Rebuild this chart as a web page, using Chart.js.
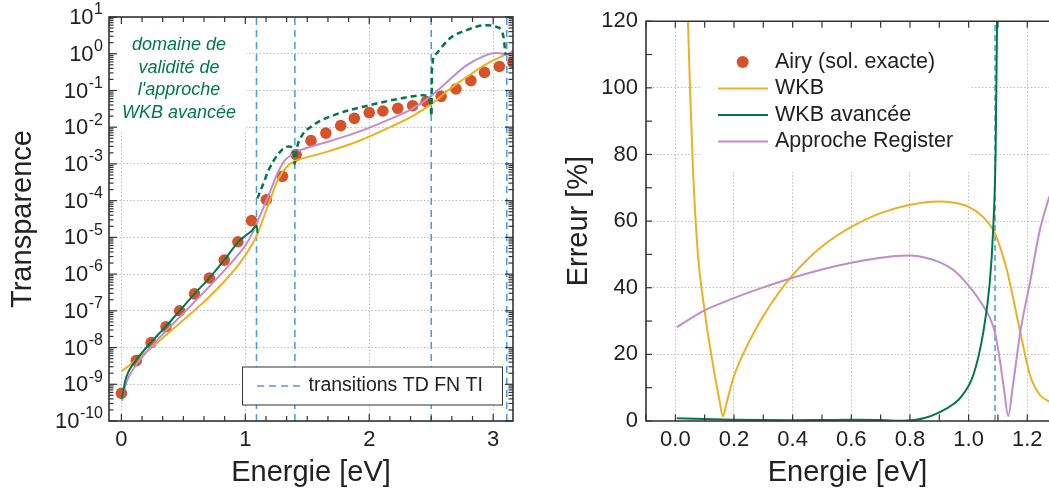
<!DOCTYPE html>
<html><head><meta charset="utf-8">
<script src="https://cdn.jsdelivr.net/npm/chart.js@4.4.1/dist/chart.umd.min.js"></script>
<style>
html,body{margin:0;padding:0;background:#fff;overflow:hidden;width:1049px;height:495px}
#l{position:absolute;left:0;top:0;width:530px;height:495px}
#r{position:absolute;left:530px;top:0;width:519px;height:495px}
</style></head><body>
<div id="l"><canvas id="cl"></canvas></div>
<div id="r"><canvas id="cr"></canvas></div>
<script>
// ---------- DATA ----------
const transitionsE = [1.09, 1.40, 2.50, 3.11];
const transitionsErrE = [1.09];

// Left: transparence vs energie
const airyE = [0.00,0.12,0.24,0.36,0.47,0.59,0.71,0.83,0.94,1.05,1.17,1.30,1.41,1.53,1.65,1.77,1.88,2.00,2.11,2.23,2.35,2.46,2.58,2.70,2.82,2.93,3.05,3.16];
const airyT = [5.7e-10,4.4e-9,1.36e-8,3.7e-8,1.0e-7,2.9e-7,7.8e-7,2.4e-6,7.6e-6,2.85e-5,1.06e-4,4.6e-4,1.8e-3,4.3e-3,6.9e-3,1.1e-2,1.74e-2,2.5e-2,2.76e-2,3.27e-2,3.85e-2,4.95e-2,6.9e-2,0.11,0.185,0.31,0.45,0.58];

const wkbE = [0.002,0.05,0.114,0.2,0.275,0.463,0.678,0.839,0.946,1.054,1.094,1.175,1.268,1.349,1.403,1.443,1.63,1.9,2.167,2.36,2.503,2.65,2.785,2.92,3.055,3.107,3.16];
const wkbT = [2.3e-9,3.0e-9,4.5e-9,7.6e-9,1.23e-8,4.4e-8,1.9e-7,6.8e-7,1.8e-6,6.3e-6,1.15e-5,6.2e-5,4.0e-4,9.3e-4,1.2e-3,1.35e-3,2.0e-3,4.0e-3,1.0e-2,2.1e-2,4.3e-2,0.11,0.23,0.47,0.81,0.95,1.05];

const registerE = [0.005,0.03,0.06,0.128,0.249,0.356,0.49,0.597,0.732,0.866,1.0,1.05,1.094,1.175,1.268,1.32,1.37,1.42,1.5,1.63,1.9,2.167,2.35,2.503,2.65,2.785,2.92,3.02,3.07,3.107,3.16];
const registerT = [3.5e-10,8.9e-10,1.6e-9,3.7e-9,1.12e-8,2.75e-8,7.9e-8,1.86e-7,5.5e-7,1.7e-6,6.0e-6,1.17e-5,2.5e-5,1.1e-4,6.3e-4,1.26e-3,1.74e-3,2.2e-3,2.75e-3,3.7e-3,7.2e-3,1.66e-2,3.2e-2,7.2e-2,0.2,0.48,0.85,1.05,1.02,0.95,1.2];

const wkbAvE = [0.005,0.03,0.06,0.12,0.24,0.36,0.47,0.59,0.71,0.83,0.94,1.0,1.05,1.092,1.098];
const wkbAvT = [4.0e-10,1.2e-9,2.3e-9,4.6e-9,1.4e-8,3.8e-8,1.0e-7,2.9e-7,7.9e-7,2.4e-6,7.3e-6,1.1e-5,1.5e-5,2.1e-5,1.3e-5];

const wkbAvOutE = [1.098,1.15,1.188,1.268,1.349,1.375,1.389,1.397,1.403,1.415,1.443,1.55,1.71,2.006,2.249,2.435,2.475,2.495,2.502,2.506,2.53,2.649,2.785,2.946,3.027,3.08,3.094,3.097];
const wkbAvOutT = [1.15e-4,3.2e-4,6.8e-4,1.9e-3,3.0e-3,2.8e-3,2.1e-3,1.0e-3,1.15e-3,2.5e-3,4.9e-3,1.14e-2,2.1e-2,4.0e-2,6.0e-2,7.4e-2,6.7e-2,4.0e-2,2.0e-2,0.35,0.91,2.6,4.4,6.0,5.4,3.2,1.4,0.95];

// Right: erreur vs energie
const errWkbE = [0.035,0.043,0.05,0.06,0.077,0.10,0.128,0.150,0.162,0.175,0.20,0.25,0.30,0.35,0.40,0.45,0.50,0.55,0.60,0.70,0.80,0.90,0.95,1.00,1.05,1.085,1.10,1.13,1.176,1.209,1.243,1.275];
const errWkb  = [150,120,100,76,50,33,17,6.5,1.4,5.5,13.5,23.5,31.5,38.2,43.8,48.5,52.4,55.6,58.3,62.4,64.9,65.9,65.5,64.3,61.2,57.2,54,45.5,26.7,13.8,7.8,5.8];

const errAvE = [0.005,0.1,0.2,0.3,0.4,0.5,0.6,0.7,0.78,0.85,0.9,0.95,0.97,1.016,1.05,1.072,1.083,1.092,1.097,1.099];
const errAv  = [0.8,0.6,0.4,0.3,0.25,0.3,0.35,0.3,0.05,0.9,2.6,5.2,6.8,13.8,26.7,41.5,56.4,81,121,140];

const errRegE = [0.005,0.1,0.2,0.3,0.4,0.5,0.6,0.7,0.75,0.8,0.85,0.9,0.95,1.0,1.05,1.072,1.09,1.106,1.12,1.135,1.15,1.176,1.209,1.243,1.275];
const errReg  = [28.2,33.2,36.9,40.1,43.0,45.5,47.5,49.0,49.5,49.65,49.1,47.7,45.2,40.6,34.5,31.0,26.5,18.5,10,1.5,10,26.7,41.5,57.4,67.4];

const xTicksLeft = [0,1,2,3];
const yTicksLeft = [1e-10,1e-9,1e-8,1e-7,1e-6,1e-5,1e-4,1e-3,1e-2,1e-1,1e0,1e1];
const xTicksRight = [0,0.2,0.4,0.6,0.8,1.0,1.2];
const yTicksRight = [0,20,40,60,80,100,120];

const legendLeft = 'transitions TD FN TI';
const legendRight = ['Airy (sol. exacte)','WKB','WKB avancée','Approche Register'];
const annotationLines = ['domaine de','validité de',"l'approche",'WKB avancée'];

// ---------- STYLE ----------
const FONT = "'Liberation Sans', Arial, Helvetica, sans-serif";
Chart.defaults.font.family = FONT;
Chart.defaults.color = '#222';
const C_AIRY = '#d4532b', C_WKB = '#edb120', C_AV = '#00784b', C_REG = '#c28ccc', C_TR = '#4d9ad6';
const C_AX = '#333', C_GRID = '#bdbdbd', C_TXT = '#222';

function pts(xs, ys){ return xs.map((x,i)=>({x:x, y:ys[i]})); }
function vlines(xs, y0, y1){ return xs.flatMap(x=>[{x:x,y:y0},{x:x,y:y1},{x:x,y:null}]); }
function seg(ctx,x1,y1,x2,y2){ ctx.beginPath(); ctx.moveTo(x1,y1); ctx.lineTo(x2,y2); ctx.stroke(); }
function curve(label, xs, ys, color, order, extra){
  return Object.assign({label, data: pts(xs,ys), borderColor: color, backgroundColor: color, borderWidth: 2,
    pointRadius: 0, cubicInterpolationMode: 'monotone', fill:false, order}, extra||{});
}

// ---------- LEFT CHART ----------
const leftPlugin = {
  id: 'leftDeco',
  beforeDatasetsDraw(chart){
    const {ctx} = chart;
    ctx.save(); ctx.fillStyle = '#fff';
    ctx.fillRect(110, 18, 136, 113);
    ctx.restore();
  },
  afterDraw(chart){
    const {ctx, chartArea:a, scales:{x, y}} = chart;
    ctx.save();
    ctx.strokeStyle = C_AX; ctx.lineWidth = 1.2;
    for (let k = 0; k <= 18; k++){
      const v = k/6; if (v > x.max) break;
      const px = x.getPixelForValue(v); const len = (k % 6 === 0) ? 7 : 5;
      seg(ctx, px, a.bottom, px, a.bottom-len); seg(ctx, px, a.top, px, a.top+len);
    }
    for (let e = -10; e <= 1; e++){
      for (let m = 1; m <= 9; m++){
        const v = m*Math.pow(10,e); if (v > y.max*1.0001) break;
        const py = y.getPixelForValue(v); const len = (m===1) ? 8 : 4.5;
        seg(ctx, a.left, py, a.left+len, py); seg(ctx, a.right, py, a.right-len, py);
      }
    }
    ctx.lineWidth = 1.6; ctx.strokeRect(a.left, a.top, a.right-a.left, a.bottom-a.top);
    ctx.fillStyle = C_TXT; ctx.textBaseline = 'middle';
    for (const v of yTicksLeft){
      const ex = String(Math.round(Math.log10(v)));
      const py = y.getPixelForValue(v);
      ctx.font = '16px ' + FONT; const ew = ctx.measureText(ex).width;
      const ex0 = 103 - ew;
      ctx.textAlign = 'left'; ctx.fillText(ex, ex0, py - 7);
      ctx.font = '22px ' + FONT; ctx.textAlign = 'right'; ctx.fillText('10', ex0 - 0.5, py + 1);
    }
    ctx.fillStyle = C_AV; ctx.font = 'italic 18px ' + FONT; ctx.textAlign = 'center';
    const ay = [45, 68, 90, 113];
    annotationLines.forEach((t,i)=>ctx.fillText(t, 179, ay[i]));
    ctx.fillStyle = '#fff'; ctx.fillRect(242.5, 367, 260, 38);
    ctx.strokeStyle = C_AX; ctx.lineWidth = 1; ctx.strokeRect(242.5, 367, 260, 38);
    ctx.strokeStyle = C_TR; ctx.lineWidth = 1.5; ctx.setLineDash([7,5]);
    seg(ctx, 257, 386, 304, 386); ctx.setLineDash([]);
    ctx.fillStyle = C_TXT; ctx.font = '19.5px ' + FONT; ctx.textAlign = 'left';
    ctx.fillText(legendLeft, 308.5, 386);
    ctx.restore();
  }
};

new Chart(document.getElementById('cl'), {
  type: 'line',
  data: { datasets: [
    {label:'Airy', data: pts(airyE, airyT), showLine:false, pointRadius:5.8, pointHoverRadius:5.8,
     pointBackgroundColor:C_AIRY, pointBorderWidth:0, borderColor:C_AIRY, order:10},
    {label:'transitions', data: vlines(transitionsE, 1e-10, 10), borderColor:C_TR, borderWidth:1.5,
     borderDash:[7,5], pointRadius:0, tension:0, spanGaps:false, order:9},
    curve('WKB', wkbE, wkbT, C_WKB, 4),
    curve('Register', registerE, registerT, C_REG, 3),
    curve('WKB avancée (hors domaine)', wkbAvOutE, wkbAvOutT, C_AV, 2, {borderDash:[6,4], borderWidth:2.5}),
    curve('WKB avancée', wkbAvE, wkbAvT, C_AV, 1)
  ]},
  options: {
    responsive:true, maintainAspectRatio:false, animation:false, devicePixelRatio:1,
    layout:{ padding:{left:0, top:17, right:17, bottom:0} },
    plugins:{ legend:{display:false}, tooltip:{enabled:false} },
    events: [],
    scales:{
      x:{ type:'linear', min:-0.1, max:3.16, position:'bottom',
        afterBuildTicks: s => { s.ticks = xTicksLeft.map(v=>({value:v})); },
        afterFit: s => { s.height = 74; },
        ticks:{ font:{size:22}, color:C_TXT, padding:6, maxRotation:0, autoSkip:false, callback: v => String(v) },
        grid:{ color:C_GRID, lineWidth:1, drawTicks:false },
        border:{ display:false, dash:[1.5,2] },
        title:{ display:true, text:'Energie [eV]', font:{size:29}, color:C_TXT, padding:{top:0,bottom:5} } },
      y:{ type:'logarithmic', min:1e-10, max:10, position:'left',
        afterBuildTicks: s => { s.ticks = yTicksLeft.map(v=>({value:v})); },
        afterFit: s => { s.width = 109; },
        ticks:{ display:false },
        grid:{ color:C_GRID, lineWidth:1, drawTicks:false },
        border:{ display:false, dash:[1.5,2] },
        title:{ display:true, text:'Transparence', font:{size:29}, color:C_TXT, padding:{top:6,bottom:0} } }
    }
  },
  plugins:[leftPlugin]
});

// ---------- RIGHT CHART ----------
const rightPlugin = {
  id: 'rightDeco',
  beforeDatasetsDraw(chart){
    const {ctx} = chart;
    ctx.save(); ctx.fillStyle = '#fff';
    ctx.fillRect(170, 19, 270, 153);
    ctx.restore();
  },
  afterDraw(chart){
    const {ctx, chartArea:a, scales:{x, y}} = chart;
    ctx.save();
    ctx.strokeStyle = C_AX; ctx.lineWidth = 1.2;
    for (let k = -1; k <= 13; k++){
      const v = k/10; if (v < x.min - 1e-9 || v > x.max) continue;
      const px = x.getPixelForValue(v);
      seg(ctx, px, a.bottom, px, a.bottom-6.5); seg(ctx, px, a.top, px, a.top+6.5);
    }
    for (let k = 0; k <= 12; k++){
      const py = y.getPixelForValue(k*10);
      seg(ctx, a.left, py, a.left+6, py);
    }
    ctx.lineWidth = 1.6;
    ctx.beginPath(); ctx.moveTo(a.right+2, a.top); ctx.lineTo(a.left, a.top); ctx.lineTo(a.left, a.bottom); ctx.lineTo(a.right+2, a.bottom); ctx.stroke();
    const ly = [62, 88.5, 115, 141.5];
    ctx.fillStyle = C_AIRY; ctx.beginPath(); ctx.arc(212.7, ly[0], 6, 0, Math.PI*2); ctx.fill();
    const cols = [null, C_WKB, C_AV, C_REG];
    ctx.lineWidth = 2;
    for (let i = 1; i < 4; i++){ ctx.strokeStyle = cols[i]; seg(ctx, 188, ly[i], 238, ly[i]); }
    ctx.fillStyle = C_TXT; ctx.font = '21.5px ' + FONT; ctx.textAlign = 'left'; ctx.textBaseline = 'middle';
    legendRight.forEach((t,i)=>ctx.fillText(t, 245, ly[i]));
    ctx.restore();
  }
};

new Chart(document.getElementById('cr'), {
  type: 'line',
  data: { datasets: [
    {label:'transitions', data: vlines(transitionsErrE, 0, 120), borderColor:C_TR, borderWidth:1.5,
     borderDash:[6,4], pointRadius:0, tension:0, spanGaps:false, order:9},
    curve('WKB', errWkbE, errWkb, C_WKB, 4),
    curve('Register', errRegE, errReg, C_REG, 3),
    curve('WKB avancée', errAvE, errAv, C_AV, 1)
  ]},
  options: {
    responsive:true, maintainAspectRatio:false, animation:false, devicePixelRatio:1,
    layout:{ padding:{left:0, top:18, right:0, bottom:0} },
    plugins:{ legend:{display:false}, tooltip:{enabled:false} },
    events: [],
    scales:{
      x:{ type:'linear', min:-0.1, max:1.274, position:'bottom',
        afterBuildTicks: s => { s.ticks = xTicksRight.map(v=>({value:v})); },
        afterFit: s => { s.height = 74; },
        ticks:{ font:{size:22}, color:C_TXT, padding:6, maxRotation:0, autoSkip:false, callback: v => Number(v).toFixed(1) },
        grid:{ color:C_GRID, lineWidth:1, drawTicks:false },
        border:{ display:false, dash:[1.5,2] },
        title:{ display:true, text:'Energie [eV]', font:{size:29}, color:C_TXT, padding:{top:0,bottom:5} } },
      y:{ type:'linear', min:0, max:120, position:'left',
        afterBuildTicks: s => { s.ticks = yTicksRight.map(v=>({value:v})); },
        afterFit: s => { s.width = 116; },
        ticks:{ font:{size:22}, color:C_TXT, padding:8, autoSkip:false, callback: v => String(v) },
        grid:{ color:C_GRID, lineWidth:1, drawTicks:false },
        border:{ display:false, dash:[1.5,2] },
        title:{ display:true, text:'Erreur [%]', font:{size:29}, color:C_TXT, padding:{top:32,bottom:0} } }
    }
  },
  plugins:[rightPlugin]
});
</script>
</body></html>
